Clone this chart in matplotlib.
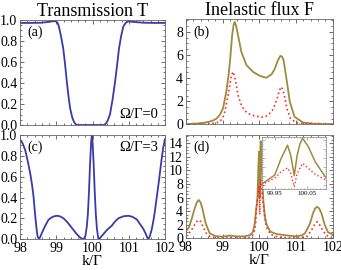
import numpy as np
import matplotlib
matplotlib.use('Agg')
import matplotlib.pyplot as plt
from matplotlib.ticker import MultipleLocator

plt.rcParams['font.family'] = ['Liberation Serif', 'DejaVu Serif']

BLUE = '#3a3aaa'
GOLD = '#9c8c3e'
RED = '#ff2a2a'

# (a) transmission, Omega/Gamma = 0
xa = [98.0, 98.3, 98.6, 98.85, 98.97, 99.03, 99.06, 99.12, 99.19, 99.24, 99.29,
      99.34, 99.38, 99.44, 99.48, 99.52, 99.55, 99.58, 100.30, 100.33, 100.37,
      100.42, 100.48, 100.55, 100.62, 100.68, 100.73, 100.79, 100.85, 100.92,
      100.99, 101.1, 101.4, 101.7, 102.0]
ya = [0.972, 0.972, 0.974, 0.985, 0.99, 0.975, 0.95, 0.86, 0.73, 0.58, 0.41,
      0.26, 0.16, 0.07, 0.035, 0.012, 0.003, 0.0, 0.0, 0.004, 0.015,
      0.045, 0.1, 0.24, 0.41, 0.58, 0.73, 0.85, 0.94, 0.975,
      0.988, 0.982, 0.974, 0.972, 0.972]

# (c) transmission, Omega/Gamma = 3
xc = [98.0, 98.07, 98.14, 98.21, 98.28, 98.33, 98.37, 98.41, 98.45, 98.48, 98.52,
      98.56, 98.6, 98.64, 98.71, 98.78, 98.85, 98.92, 99.01, 99.1, 99.2, 99.3,
      99.38, 99.47, 99.56, 99.66, 99.71, 99.75, 99.8, 99.84, 99.87, 99.9, 99.93,
      99.96, 99.98, 100.0, 100.03, 100.06, 100.09, 100.12, 100.16, 100.2, 100.25,
      100.3, 100.4, 100.53, 100.62, 100.71, 100.85, 100.99, 101.1, 101.22, 101.32,
      101.4, 101.47, 101.51, 101.54, 101.58, 101.63, 101.68, 101.72, 101.77,
      101.82, 101.87, 101.91, 101.95, 102.0]
yc = [0.95, 0.92, 0.856, 0.75, 0.63, 0.52, 0.41, 0.25, 0.11, 0.03, 0.0,
      0.025, 0.06, 0.09, 0.14, 0.185, 0.205, 0.218, 0.225, 0.22, 0.2, 0.165,
      0.13, 0.09, 0.05, 0.015, 0.004, 0.0, 0.03, 0.12, 0.24, 0.45, 0.72,
      0.93, 1.0, 0.93, 0.72, 0.45, 0.24, 0.1, 0.0, 0.01, 0.03,
      0.05, 0.09, 0.13, 0.17, 0.2, 0.22, 0.225, 0.215, 0.19, 0.14,
      0.1, 0.05, 0.015, 0.0, 0.03, 0.09, 0.18, 0.27, 0.4,
      0.53, 0.67, 0.78, 0.88, 0.96]

# (b) inelastic flux, Omega/Gamma = 0
xb = [98.0, 98.3, 98.5, 98.65, 98.75, 98.83, 98.92, 99.01, 99.1, 99.16, 99.2,
      99.26, 99.3, 99.33, 99.37, 99.42, 99.51, 99.65, 99.83, 100.01, 100.19,
      100.33, 100.42, 100.5, 100.57, 100.62, 100.66, 100.75, 100.83, 100.96,
      101.19, 101.5, 102.0]
yb_gold = [0.03, 0.08, 0.15, 0.25, 0.36, 0.5, 0.8, 1.38, 2.8, 4.2, 5.4,
           7.7, 8.6, 8.86, 8.5, 7.7, 6.27, 5.12, 4.54, 4.2, 4.03,
           4.32, 4.8, 5.5, 5.92, 5.85, 5.55, 3.7, 1.95, 0.66,
           0.17, 0.06, 0.03]
xb_red = [98.0, 98.5, 98.75, 98.92, 99.0, 99.06, 99.15, 99.24, 99.29, 99.36,
          99.42, 99.51, 99.6, 99.69, 99.85, 100.01, 100.12, 100.24, 100.35,
          100.42, 100.49, 100.55, 100.6, 100.64, 100.69, 100.75, 100.85, 101.0,
          101.3, 102.0]
yb_red = [0.0, 0.03, 0.1, 0.22, 0.55, 1.09, 2.53, 4.26, 4.55, 3.68,
          2.53, 1.67, 1.2, 0.95, 0.75, 0.66, 0.62, 0.8, 1.2,
          1.67, 2.3, 2.96, 3.25, 3.0, 2.38, 1.38, 0.5, 0.15,
          0.03, 0.0]

# (d) inelastic flux, Omega/Gamma = 3
xd = [98.0, 98.08, 98.15, 98.24, 98.3, 98.35, 98.4, 98.45, 98.54, 98.65, 98.8,
      99.0, 99.2, 99.4, 99.6, 99.75, 99.82, 99.87, 99.91, 99.95, 99.97, 99.99,
      100.0, 100.011, 100.02, 100.029, 100.037, 100.055, 100.076, 100.097,
      100.11, 100.15, 100.2, 100.3, 100.46, 100.73, 101.0, 101.15, 101.24,
      101.38, 101.46, 101.52, 101.57, 101.63, 101.69, 101.78, 101.87, 102.0]
yd_gold = [1.0, 1.6, 2.7, 4.4, 5.3, 5.64, 5.3, 4.4, 2.2, 0.74, 0.35,
           0.25, 0.42, 0.3, 0.3, 0.5, 0.9, 2.0, 4.1, 6.1, 9.8, 12.75,
           10.5, 5.97, 10.5, 13.1, 14.3, 12.4, 9.1, 6.85,
           5.53, 3.2, 2.0, 1.0, 0.65, 0.45, 0.3, 0.45, 0.74,
           2.2, 3.7, 4.4, 4.65, 4.4, 3.7, 2.0, 0.9, 0.6]
xd_red = [98.0, 98.08, 98.15, 98.24, 98.3, 98.35, 98.4, 98.47, 98.55, 98.65, 98.8,
          99.0, 99.2, 99.5, 99.75, 99.82, 99.87, 99.9, 99.919, 99.95, 99.97,
          99.99, 100.0, 100.011, 100.02, 100.037, 100.055, 100.076, 100.11,
          100.15, 100.2, 100.3, 100.5, 100.8, 101.1, 101.3, 101.42, 101.5,
          101.57, 101.64, 101.73, 101.8, 101.87, 102.0]
yd_red = [0.35, 0.7, 1.2, 2.0, 2.5, 2.7, 2.5, 1.7, 0.8, 0.3, 0.1,
          0.05, 0.1, 0.05, 0.15, 0.5, 1.2, 2.2, 4.3, 5.4, 6.85,
          7.7, 6.5, 3.5, 6.5, 8.7, 7.6, 6.3, 5.0,
          3.0, 1.6, 0.6, 0.2, 0.1, 0.1, 0.3, 1.2, 2.0,
          2.45, 2.0, 1.2, 0.6, 0.3, 0.1]

x_ticks = [98, 99, 100, 101, 102]
t_ticks = [0, 0.2, 0.4, 0.6, 0.8, 1.0]
t_labels = ['0.0', '0.2', '0.4', '0.6', '0.8', '1.0']


def frame(ax, ymajor, yminor):
    ax.set_xlim(98, 102)
    ax.xaxis.set_major_locator(MultipleLocator(1))
    ax.xaxis.set_minor_locator(MultipleLocator(0.2))
    ax.yaxis.set_major_locator(MultipleLocator(ymajor))
    ax.yaxis.set_minor_locator(MultipleLocator(yminor))
    ax.tick_params(which='both', direction='in', top=True, right=True,
                   width=0.6, labelsize=10, pad=2, color='#555555')
    ax.tick_params(which='major', length=3)
    ax.tick_params(which='minor', length=1.5)
    for s in ax.spines.values():
        s.set_linewidth(0.6)
        s.set_color('#666666')


fig = plt.figure(figsize=(3.41, 2.70), dpi=100)

ax_a = fig.add_axes([0.059, 0.537, 0.425, 0.389])
ax_b = fig.add_axes([0.545, 0.539, 0.431, 0.389])
ax_c = fig.add_axes([0.059, 0.114, 0.425, 0.386])
ax_d = fig.add_axes([0.545, 0.117, 0.431, 0.383])

ax_a.plot(xa, ya, color=BLUE, lw=1.3)
frame(ax_a, 0.2, 0.05)
ax_a.set_ylim(0, 1)
ax_a.set_yticks(t_ticks)
ax_a.set_yticklabels(t_labels)
ax_a.set_xticklabels([])
ax_a.set_title('Transmission T', fontsize=13, pad=2)
ax_a.text(0.05, 0.88, '(a)', transform=ax_a.transAxes, fontsize=10, va='center')
ax_a.text(0.955, 0.1, 'Ω/Γ=0', transform=ax_a.transAxes, fontsize=10.5,
          ha='right', va='center')

ax_c.plot(xc, yc, color=BLUE, lw=1.3)
frame(ax_c, 0.2, 0.05)
ax_c.set_ylim(0, 1)
ax_c.set_yticks(t_ticks)
ax_c.set_yticklabels(t_labels)
ax_c.set_xticks(x_ticks)
ax_c.set_xlabel('k/Γ', fontsize=11, labelpad=0)
ax_c.text(0.05, 0.88, '(c)', transform=ax_c.transAxes, fontsize=10, va='center')
ax_c.text(0.955, 0.88, 'Ω/Γ=3', transform=ax_c.transAxes, fontsize=10.5,
          ha='right', va='center')

ax_b.plot(xb, yb_gold, color=GOLD, lw=1.3)
ax_b.plot(xb_red, yb_red, color=RED, lw=1.2, ls=':')
frame(ax_b, 2, 0.5)
ax_b.set_ylim(0, 9.07)
ax_b.set_xticklabels([])
ax_b.set_title('Inelastic flux F', fontsize=13, pad=2)
ax_b.text(0.05, 0.88, '(b)', transform=ax_b.transAxes, fontsize=10, va='center')

ax_d.plot(xd, yd_gold, color=GOLD, lw=1.3)
ax_d.plot(xd_red, yd_red, color=RED, lw=1.2, ls=':')
frame(ax_d, 2, 0.5)
ax_d.set_ylim(0, 15.2)
ax_d.set_xticks(x_ticks)
ax_d.set_xlabel('k/Γ', fontsize=11, labelpad=0)
ax_d.text(0.05, 0.88, '(d)', transform=ax_d.transAxes, fontsize=10, va='center')

# zoom on the double peak near k = 100
ins = fig.add_axes([0.768, 0.300, 0.188, 0.193])
ins.plot(xd, yd_gold, color=GOLD, lw=1.1)
ins.plot(xd_red, yd_red, color=RED, lw=1.0, ls=':')
ins.set_xlim(99.91, 100.11)
ins.set_ylim(3.0, 14.6)
ins.set_xticks([99.95, 100.05])
ins.set_xticklabels(['99.95', '100.05'])
ins.xaxis.set_minor_locator(MultipleLocator(0.01))
ins.yaxis.set_major_locator(MultipleLocator(2))
ins.yaxis.set_minor_locator(MultipleLocator(0.5))
ins.set_yticklabels([])
ins.tick_params(which='both', direction='in', top=True, right=True,
                width=0.4, labelsize=5, pad=1.5, color='#777777')
ins.tick_params(which='major', length=2)
ins.tick_params(which='minor', length=1)
for s in ins.spines.values():
    s.set_linewidth(0.5)
    s.set_color('#888888')

plt.savefig('out.png', dpi=100)
